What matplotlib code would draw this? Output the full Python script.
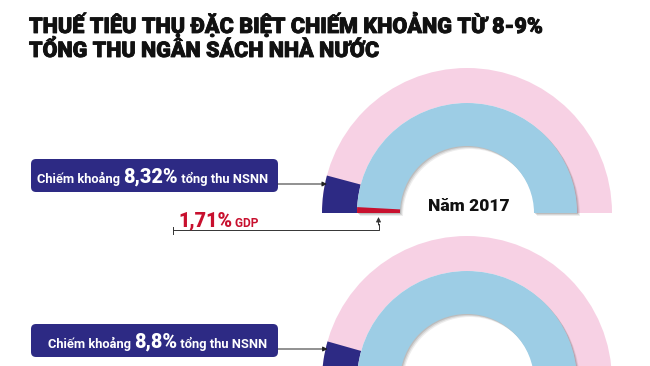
import unicodedata
import numpy as np
import matplotlib
matplotlib.use("Agg")
import matplotlib.pyplot as plt
import matplotlib.patheffects as pe
from matplotlib.patches import Wedge, FancyBboxPatch

# Datos
years = [2017, 2018]
nsnn_share = [8.32, 8.8]      # % tổng thu NSNN
gdp_share = [1.71]            # % GDP (solo visible 2017)
title_lines = ["THUẾ TIÊU THỤ ĐẶC BIỆT CHIẾM KHOẢNG TỪ 8-9%",
               "TỔNG THU NGÂN SÁCH NHÀ NƯỚC"]
title_lines = [unicodedata.normalize("NFC", s) for s in title_lines]

W, H = 650, 366
PINK = "#F7D1E4"
BLUE = "#9DCDE5"
NAVY = "#2D2A84"
RED = "#C8102E"

TITLE_FONT = ["Roboto", "DejaVu Sans"]
BODY_FONT = ["Roboto", "DejaVu Sans"]

fig = plt.figure(figsize=(W / 100, H / 100), dpi=100)
ax = fig.add_axes([0, 0, 1, 1])
ax.set_xlim(0, W)
ax.set_ylim(0, H)
ax.axis("off")
renderer = fig.canvas.get_renderer()


def Y(y_img):
    # coordenadas de imagen (y hacia abajo) -> datos
    return H - y_img


def text_runs(runs, x_left, y_base, width):
    """Dibuja varios trozos de texto seguidos y los ajusta a un ancho dado."""
    objs = []
    for s, size, weight, color in runs:
        t = ax.text(0, Y(y_base), unicodedata.normalize("NFC", s),
                    fontsize=size, fontweight=weight, color=color,
                    family=BODY_FONT, va="baseline", ha="left")
        objs.append(t)
    total = sum(t.get_window_extent(renderer).width for t in objs)
    k = width / total
    x = x_left
    for t, (s, size, weight, color) in zip(objs, runs):
        t.set_fontsize(size * k)
        t.set_x(x)
        x += t.get_window_extent(renderer).width


# Título
title_width = [513, 350]
for i, line in enumerate(title_lines):
    t = ax.text(29, Y(33 + i * 24), line, fontsize=17, fontweight="heavy",
                color="#111111", family=TITLE_FONT, va="baseline", ha="left",
                path_effects=[pe.withStroke(linewidth=0.6, foreground="#111111")])
    w = t.get_window_extent(renderer).width
    t.set_fontsize(17 * title_width[i] / w)

# Semicírculos
cx = 467
centers = [213, 381]
r_pink, w_pink = 145, 35
r_blue, w_blue = 110, 43
text_left = [37, 48]
text_width = [233, 222]

for k, (year, share, cy) in enumerate(zip(years, nsnn_share, centers)):
    c = (cx, Y(cy))
    ax.add_patch(Wedge(c, r_pink, 0, 180, width=w_pink, color=PINK, lw=0))
    ax.add_patch(Wedge(c, r_pink, 180 - share * 1.8, 180, width=w_pink,
                       color=NAVY, lw=0))
    # sombra suave del anillo azul
    for off, a in [(3, 0.10), (2, 0.15), (1, 0.2)]:
        ax.add_patch(Wedge((cx + off, Y(cy) - off), r_blue, 0, 180,
                           width=w_blue, color="#555555", alpha=a, lw=0))
    ax.add_patch(Wedge(c, r_blue, 0, 180, width=w_blue, color=BLUE, lw=0))
    if k < len(gdp_share):
        ax.add_patch(Wedge(c, r_blue, 180 - gdp_share[k] * 1.8, 180,
                           width=w_blue, color=RED, lw=0))
    ax.text(cx + 2, Y(cy - 7), f"Năm {year}", fontsize=12.5, fontweight="heavy",
            color="#111111", family=BODY_FONT, ha="center", va="center")

    # recuadro con el porcentaje
    box_top = cy - 54 if k == 0 else cy - 57
    box = FancyBboxPatch((31, Y(box_top + 33)), 247, 33,
                         boxstyle="round,pad=0,rounding_size=5",
                         fc=NAVY, ec="none")
    ax.add_patch(box)
    base = box_top + 24
    pct = f"{share:g}".replace(".", ",") + "%"
    text_runs([("Chiếm khoảng ", 9.5, "bold", "white"),
               (pct, 14.5, "heavy", "white"),
               (" tổng thu NSNN", 9.5, "bold", "white")],
              text_left[k], base, text_width[k])

    # flecha hacia el segmento azul oscuro
    ya = base + 1
    dy = cy - ya
    xa = cx - np.sqrt(r_pink ** 2 - dy ** 2) + 2
    ax.annotate("", xy=(xa, Y(ya)), xytext=(278, Y(ya)),
                arrowprops=dict(arrowstyle="-|>", lw=0.7, color="#222222",
                                mutation_scale=7, shrinkA=0, shrinkB=0))

# Etiqueta % GDP (2017)
cy = centers[0]
x_red = cx - (r_blue - w_blue / 2)
ax.plot([173, x_red, x_red], [Y(230), Y(230), Y(224)], color="#333333", lw=0.7)
ax.plot([173, 173], [Y(226.5), Y(233.5)], color="#333333", lw=0.7)
ax.annotate("", xy=(x_red, Y(217)), xytext=(x_red, Y(225)),
            arrowprops=dict(arrowstyle="-|>", lw=0.7, color="#333333",
                            mutation_scale=7, shrinkA=0, shrinkB=0))
gdp_runs = [(f"{gdp_share[0]:g}".replace(".", ",") + "%", 14, "heavy", RED),
            (" GDP", 8.5, "bold", RED)]
text_runs(gdp_runs, 178, 227, 80)

fig.savefig("out.png", dpi=100, facecolor="white")
